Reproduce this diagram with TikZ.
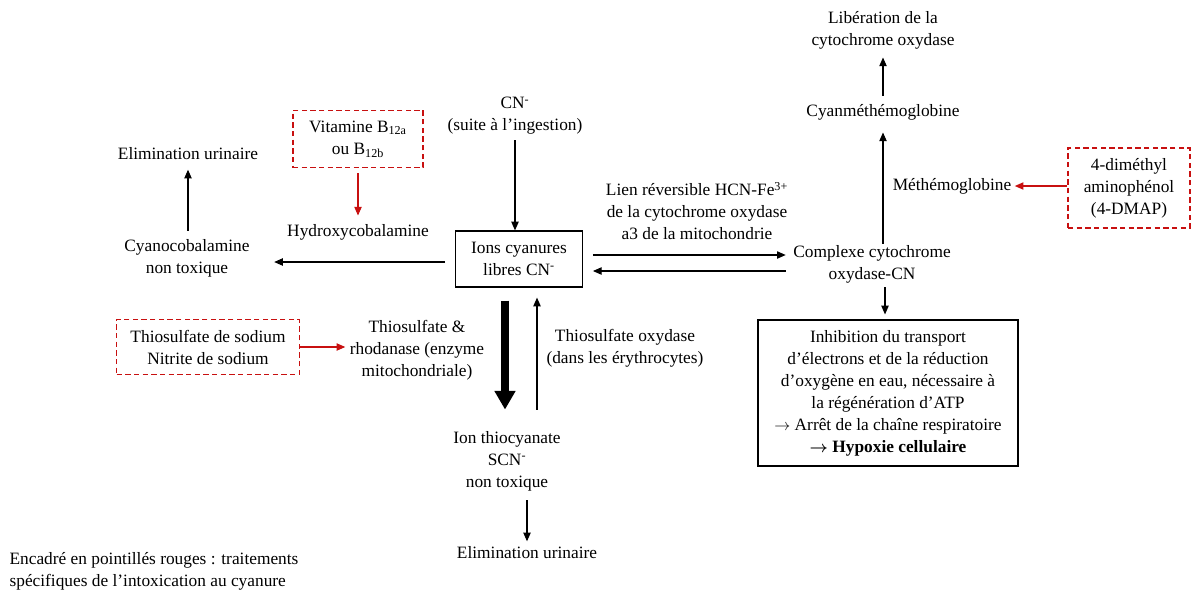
\documentclass[tikz,border=0pt]{standalone}
\usepackage{fontspec}
\setmainfont{Liberation Serif}
\usetikzlibrary{arrows.meta,calc}
\definecolor{treatred}{RGB}{200,16,16}
\begin{document}
\begin{tikzpicture}[x=0.75pt,y=-0.75pt,
  txt/.style={align=center,inner sep=1pt,font=\fontsize{13}{16.5}\selectfont},
  box/.style={txt,draw,line width=0.9pt},
  redbox/.style={txt,draw=treatred,line width=1pt,dash pattern=on 4pt off 2.5pt},
  arr/.style={line width=0.8pt,-{Triangle[length=6.5pt,width=5.5pt]}},
  redarr/.style={arr,draw=treatred,color=treatred},
  bigarr/.style={line width=5.5pt,-{Triangle[length=14pt,width=15pt]}}]
\useasboundingbox (0,0) rectangle (1194,594);

% right column: cytochrome oxidase branch
\node[txt] (lib) at (883,30) {Libération de la\\cytochrome oxydase};
\node[txt] (cyanmet) at (883,112) {Cyanméthémoglobine};
\node[txt] (methemo) at (952,186) {Méthémoglobine};
\node[redbox,minimum width=91.5pt,minimum height=60pt] (dmap) at (1129,188) {4-diméthyl\\aminophénol\\(4-DMAP)};
\node[txt] (cplx) at (872,264) {Complexe cytochrome\\oxydase-CN};
\node[box,minimum width=195pt,minimum height=109.5pt] (inhib) at (888,393)
  {Inhibition du transport\\d’électrons et de la réduction\\d’oxygène en eau, nécessaire à\\la régénération d’ATP\\$\rightarrow$ Arrêt de la chaîne respiratoire\\{\bfseries\boldmath$\rightarrow$ Hypoxie cellulaire}};
\node[txt] (lien) at (697,211) {Lien réversible HCN-Fe\textsuperscript{3+}\\de la cytochrome oxydase\\a3 de la mitochondrie};

% centre: free cyanide
\node[txt] (cn) at (515,116) {CN\textsuperscript{-}\\(suite à l’ingestion)};
\node[box,minimum width=95pt,minimum height=42pt] (ions) at (519,259) {Ions cyanures\\libres CN\textsuperscript{-}};

% left: hydroxocobalamin branch
\node[txt] (cyano) at (187,258) {Cyanocobalamine\\non toxique};
\node[txt] (elim1) at (188,154) {Elimination urinaire};
\node[redbox,minimum width=97.5pt,minimum height=43pt] (vit) at (358,139) {Vitamine B\textsubscript{12a}\\ou B\textsubscript{12b}};
\node[txt] (hydroxy) at (358,232) {Hydroxycobalamine};

% lower: thiosulfate / rhodanese branch
\node[redbox,minimum width=137pt,minimum height=41pt] (thiobox) at (208,347) {Thiosulfate de sodium\\Nitrite de sodium};
\node[txt] (rhod) at (417,350) {Thiosulfate \&\\rhodanase (enzyme\\mitochondriale)};
\node[txt] (thiox) at (625,348) {Thiosulfate oxydase\\(dans les érythrocytes)};
\node[txt] (scn) at (507,461) {Ion thiocyanate\\SCN\textsuperscript{-}\\non toxique};
\node[txt] (elim2) at (527,553) {Elimination urinaire};

% legend
\node[txt,align=left,anchor=west] (legend) at (8,571) {Encadré en pointillés rouges : traitements\\spécifiques de l’intoxication au cyanure};

% connectors
\draw[arr] ($(cyanmet.north)+(0,-7)$) -- ($(lib.south)+(0,7)$);
\draw[arr] (cyanmet.south |- cplx.north) -- ($(cyanmet.south)+(0,11)$);
\draw[redarr] (dmap.west |- methemo.east) -- ($(methemo.east)+(2,0)$);
\draw[arr] ($(inhib.north |- cplx.south)+(-3,3)$) -- ($(inhib.north)+(-3,-5)$);
\draw[arr] ($(ions.east)+(10,-4)$) -- ($(cplx.west |- ions.east)+(-6,-4)$);
\draw[arr] ($(cplx.west |- ions.east)+(-6,12)$) -- ($(ions.east)+(10,12)$);
\draw[arr] ($(cn.south)+(0,4)$) -- (cn.south |- ions.north);
\draw[arr] ($(ions.west)+(-10,3)$) -- ($(cyano.east |- ions.west)+(23,3)$);
\draw[arr] ($(elim1.south |- cyano.north)+(0,-7)$) -- ($(elim1.south)+(0,8)$);
\draw[redarr] ($(vit.south)+(0,5)$) -- ($(hydroxy.north)+(0,-7)$);
\draw[redarr] (thiobox.east) -- ($(thiobox.east -| rhod.west)+(-3,0)$);
\draw[bigarr] ($(ions.south)+(-14,13)$) -- ($(ions.south |- scn.north)+(-14,-20)$);
\draw[arr] ($(ions.south |- scn.north)+(18,-20)$) -- ($(ions.south)+(18,10)$);
\draw[arr] ($(elim2.north |- scn.south)+(0,8)$) -- ($(elim2.north)+(0,-4)$);
\end{tikzpicture}
\end{document}
